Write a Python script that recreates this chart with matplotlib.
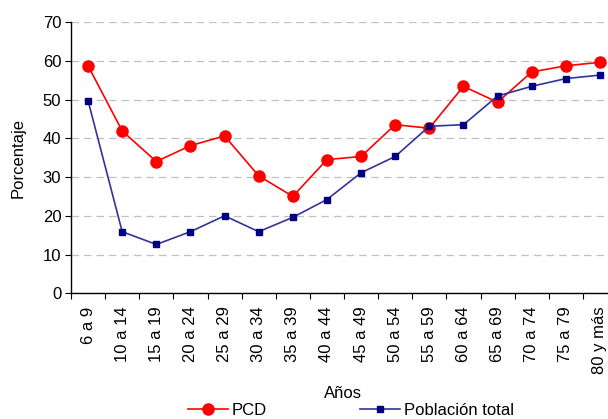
import matplotlib
matplotlib.use("Agg")
import matplotlib.pyplot as plt
from matplotlib.lines import Line2D
import numpy as np

categories = ["6 a 9", "10 a 14", "15 a 19", "20 a 24", "25 a 29", "30 a 34", "35 a 39",
              "40 a 44", "45 a 49", "50 a 54", "55 a 59", "60 a 64", "65 a 69", "70 a 74",
              "75 a 79", "80 y más"]
pcd = [58.7, 41.9, 34.0, 38.1, 40.6, 30.3, 25.0, 34.5, 35.3, 43.5, 42.6, 53.4, 49.3, 57.1, 58.7, 59.6]
poblacion = [49.7, 15.9, 12.6, 15.9, 20.0, 15.9, 19.6, 24.2, 31.1, 35.3, 43.1, 43.5, 50.9, 53.4, 55.4, 56.3]
yticks = [0, 10, 20, 30, 40, 50, 60, 70]

plt.rcParams['font.family'] = ['Liberation Sans', 'DejaVu Sans']

fig = plt.figure(figsize=(6.08, 4.19), dpi=100)
ax = fig.add_axes([71/608, 1 - 293.3/419, (617-71)/608, (293.3-22)/419])

x = np.arange(len(categories))
ax.plot(x, pcd, color='#FF0000', lw=1.2, marker='o', markersize=8,
        markerfacecolor='#FF0000', markeredgecolor='#FF0000', zorder=3)
ax.plot(x, poblacion, color='#333399', lw=1.2, marker='s', markersize=4.5,
        markerfacecolor='#000080', markeredgecolor='#000080', zorder=3)

ax.set_xlim(-0.5, len(categories) - 0.5)
ax.set_ylim(0, 70)
ax.set_yticks(yticks)
ax.set_yticklabels([str(v) for v in yticks], fontsize=12)
ax.yaxis.grid(True, color='#C0C0C0', linestyle=(0, (6, 4)), lw=0.9)
ax.set_axisbelow(True)

ax.set_xticks(np.arange(-0.5, len(categories), 1.0))
ax.set_xticklabels([])
ax.set_xticks(x, minor=True)
ax.set_xticklabels(categories, minor=True, rotation=90, fontsize=12, va='top', ha='center')
ax.tick_params(axis='x', which='minor', length=0, pad=9.5)
ax.tick_params(axis='x', which='major', length=4, direction='out', color='black')
ax.tick_params(axis='y', length=4, direction='out', color='black', pad=3)

for s in ['top', 'right']:
    ax.spines[s].set_visible(False)
for s in ['left', 'bottom']:
    ax.spines[s].set_color('black')
    ax.spines[s].set_linewidth(1.0)

ax.set_ylabel("Porcentaje", fontsize=12, labelpad=12.5)
fig.text(343/608, 1 - 393/419, "Años", fontsize=12, ha='center', va='center')

handles = [Line2D([], [], color='#FF0000', lw=1.2, marker='o', markersize=8),
           Line2D([], [], color='#333399', lw=1.2, marker='s', markersize=4.5,
                  markerfacecolor='#000080', markeredgecolor='#000080')]
fig.legend(handles, ["PCD", "Población total"], loc='center', ncol=2, frameon=False,
           bbox_to_anchor=(351/608, 1 - 410/419), fontsize=12, handlelength=2.4,
           columnspacing=5.6, handletextpad=0.25, borderpad=0)

fig.savefig("out.png", dpi=100)
